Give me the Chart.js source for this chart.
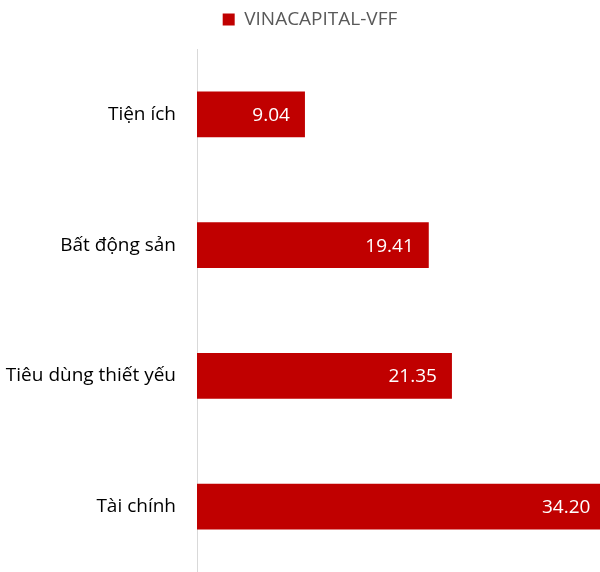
<!DOCTYPE html>
<html>
<head>
<meta charset="utf-8">
<script src="https://cdn.jsdelivr.net/npm/chart.js@4/dist/chart.umd.min.js"></script>
<style>
  body { margin: 0; background: #fff; }
  #wrap { width: 600px; height: 572px; }
</style>
</head>
<body>
<div id="wrap"><canvas id="chart"></canvas></div>
<script>
const categories = ["Tiện ích", "Bất động sản", "Tiêu dùng thiết yếu", "Tài chính"];
const values = [9.04, 19.41, 21.35, 34.20];
const seriesName = "VINACAPITAL-VFF";

const FONT = "'Open Sans', sans-serif";

// white value text inside the end of each bar
const valueLabels = {
  id: "valueLabels",
  afterDatasetsDraw(chart) {
    const ctx = chart.ctx;
    const meta = chart.getDatasetMeta(0);
    ctx.save();
    ctx.fillStyle = "#ffffff";
    ctx.font = "19px " + FONT;
    ctx.textAlign = "right";
    ctx.textBaseline = "middle";
    meta.data.forEach((bar, i) => {
      ctx.fillText(values[i].toFixed(2), bar.x - 15, bar.y + 1);
    });
    ctx.restore();
  },
};

// more room under the legend, and nudge it a little to the right
const legendTweak = {
  id: "legendTweak",
  afterInit(chart) {
    const legend = chart.legend;
    const fit = legend.fit;
    legend.fit = function () {
      fit.call(this);
      this.height += 10;
    };
    const draw = legend.draw;
    legend.draw = function () {
      const ctx = this.ctx;
      ctx.save();
      ctx.translate(10, 0);
      draw.apply(this, arguments);
      ctx.restore();
    };
  },
};

new Chart(document.getElementById("chart"), {
  type: "bar",
  data: {
    labels: categories,
    datasets: [
      {
        label: seriesName,
        data: values,
        backgroundColor: "#c00000",
        categoryPercentage: 1,
        barPercentage: 0.35,
      },
    ],
  },
  options: {
    indexAxis: "y",
    responsive: true,
    maintainAspectRatio: false,
    animation: false,
    layout: { padding: 0 },
    plugins: {
      tooltip: { enabled: false },
      legend: {
        position: "top",
        labels: {
          boxWidth: 12,
          boxHeight: 12,
          color: "#595959",
          font: { family: FONT, size: 19 },
          padding: 10,
        },
      },
    },
    scales: {
      x: {
        display: false,
        min: 0,
        max: 33.75,
      },
      y: {
        afterFit: (scale) => {
          scale.width = 197;
          scale.paddingTop = 0;
          scale.paddingBottom = 0;
        },
        grid: { display: false, drawTicks: false },
        border: { display: true, color: "#d9d9d9", width: 1 },
        ticks: {
          color: "#000000",
          font: { family: FONT, size: 19 },
          padding: 21,
        },
      },
    },
  },
  plugins: [valueLabels, legendTweak],
});
</script>
</body>
</html>
